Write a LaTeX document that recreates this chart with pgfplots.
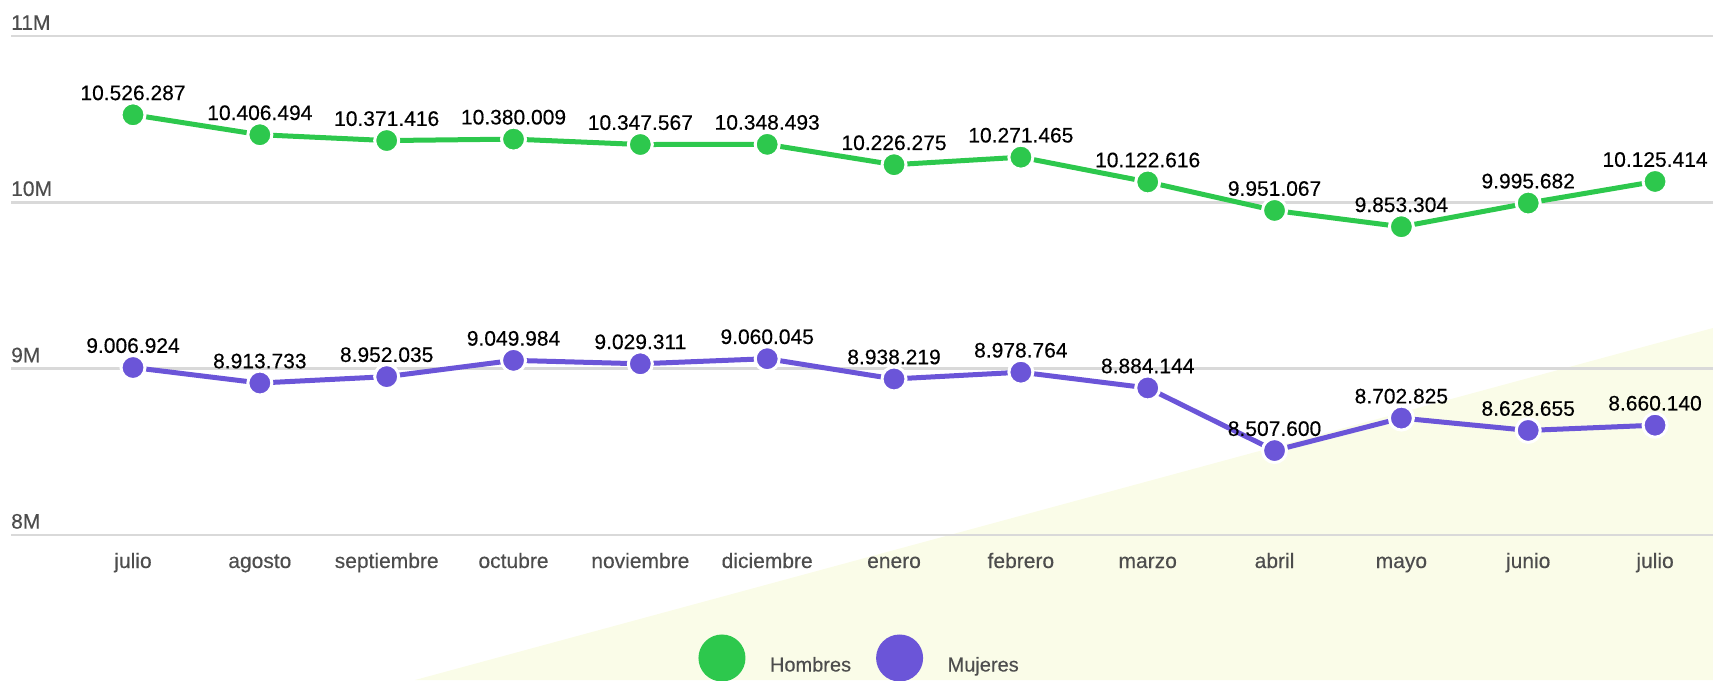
\documentclass[border=0pt]{standalone}
\usepackage{fontspec}
\setmainfont{Liberation Sans}[FakeBold=0.3]
\usepackage{pgfplots}
\usepackage{pgfplotstable}
\pgfplotsset{compat=1.18}
\definecolor{cgreen}{RGB}{45,200,77}
\definecolor{cpurple}{RGB}{107,85,216}
\definecolor{cgrid}{RGB}{217,217,217}
\definecolor{ctext}{RGB}{77,77,77}
\definecolor{cbg}{RGB}{250,252,232}

\pgfplotstableread{
x y lab
0 10526287 10.526.287
1 10406494 10.406.494
2 10371416 10.371.416
3 10380009 10.380.009
4 10347567 10.347.567
5 10348493 10.348.493
6 10226275 10.226.275
7 10271465 10.271.465
8 10122616 10.122.616
9 9951067 9.951.067
10 9853304 9.853.304
11 9995682 9.995.682
12 10125414 10.125.414
}\hombres

\pgfplotstableread{
x y lab
0 9006924 9.006.924
1 8913733 8.913.733
2 8952035 8.952.035
3 9049984 9.049.984
4 9029311 9.029.311
5 9060045 9.060.045
6 8938219 8.938.219
7 8978764 8.978.764
8 8884144 8.884.144
9 8507600 8.507.600
10 8702825 8.702.825
11 8628655 8.628.655
12 8660140 8.660.140
}\mujeres

\pgfplotstableread{
y lab
8000000 8M
9000000 9M
10000000 10M
11000000 11M
}\yt

\begin{document}
\begin{tikzpicture}
\path[use as bounding box] (-11pt,-145pt) rectangle (1702pt,535pt);
\fill[cbg] (404pt,-145pt) -- (1702pt,207pt) -- (1702pt,-145pt) -- cycle;
\begin{axis}[
  at={(0pt,0pt)}, anchor=south west,
  scale only axis, width=1702pt, height=499pt,
  xmin=-0.962, xmax=12.457, ymin=8000000, ymax=11000000,
  clip=false,
  scaled y ticks=false,
  axis line style={draw=none},
  major tick length=0pt,
  ymajorgrids, grid style={cgrid, line width=2.5pt},
  ytick={8000000,9000000,10000000,11000000},
  yticklabels={},
  xtick={0,...,12},
  xticklabels={julio,agosto,septiembre,octubre,noviembre,diciembre,enero,febrero,marzo,abril,mayo,junio,julio},
  xticklabel style={anchor=base, inner sep=0pt, yshift=-33pt, text=ctext, font=\fontsize{21}{21}\selectfont},
  legend columns=2,
  legend style={at={(0.498,-0.2465)}, anchor=center, draw=none, fill=none,
    font=\fontsize{20}{20}\selectfont, text=ctext,
    nodes={inner sep=0pt},
    /tikz/every even column/.append style={column sep=25pt}},
  every node near coord/.append style={anchor=south, inner sep=0pt, yshift=13pt, text=black, font=\fontsize{21}{21}\selectfont},
]
\addplot[draw=none, mark=none, forget plot,
  nodes near coords, point meta=explicit symbolic,
  every node near coord/.style={anchor=south west, inner sep=0pt, yshift=6pt, text=ctext, font=\fontsize{21}{21}\selectfont}]
  table[x expr=-0.962, y=y, meta=lab] {\yt};
\addplot[cgreen, line width=5pt, mark=*, mark size=12pt,
  mark options={fill=cgreen, draw=white, line width=3pt},
  nodes near coords, point meta=explicit symbolic,
  legend image code/.code={\fill[cgreen] (0pt,7pt) circle (21pt); \path[draw=none] (0pt,0pt) -- (48pt,0pt);}]
  table[x=x, y=y, meta=lab] {\hombres};
\addlegendentry{Hombres}
\addplot[cpurple, line width=5pt, mark=*, mark size=12pt,
  mark options={fill=cpurple, draw=white, line width=3pt},
  nodes near coords, point meta=explicit symbolic,
  legend image code/.code={\fill[cpurple] (0pt,7pt) circle (21pt); \path[draw=none] (0pt,0pt) -- (48pt,0pt);}]
  table[x=x, y=y, meta=lab] {\mujeres};
\addlegendentry{Mujeres}
\end{axis}
\end{tikzpicture}
\end{document}
